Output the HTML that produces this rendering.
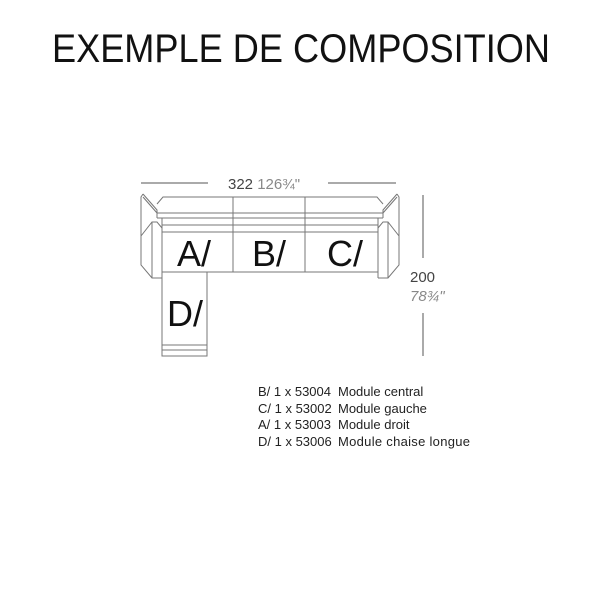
<!DOCTYPE html>
<html><head><meta charset="utf-8"><style>
html,body{margin:0;padding:0;background:#fff;}
svg{display:block;}
</style></head><body>
<svg width="600" height="600" viewBox="0 0 600 600" xmlns="http://www.w3.org/2000/svg" font-family="Liberation Sans, Arial, sans-serif">
<rect width="600" height="600" fill="#fff"/>
<text x="52" y="62" font-size="40" textLength="498" lengthAdjust="spacingAndGlyphs" fill="#111">EXEMPLE DE COMPOSITION</text>

<g stroke="#555" stroke-width="1" fill="none">
<line x1="141" y1="183" x2="208" y2="183"/>
<line x1="328" y1="183" x2="396" y2="183"/>
<line x1="423" y1="195" x2="423" y2="258"/>
<line x1="423" y1="313" x2="423" y2="356"/>
</g>
<text x="228" y="189" font-size="15" fill="#444">322 <tspan fill="#888">126¾"</tspan></text>
<text x="410" y="282" font-size="15" fill="#444">200</text>
<text x="410" y="301" font-size="15" fill="#888" font-style="italic">78¾"</text>

<g stroke="#777" stroke-width="1" fill="none">
<polyline points="157,204 163,197 377,197 383,204"/>
<line x1="157" y1="213" x2="383" y2="213"/>
<line x1="157" y1="218" x2="383" y2="218"/>
<line x1="162" y1="225" x2="378" y2="225"/>
<line x1="162" y1="232" x2="378" y2="232"/>
<line x1="162" y1="272" x2="378" y2="272"/>
<line x1="233" y1="197" x2="233" y2="272"/>
<line x1="305" y1="197" x2="305" y2="272"/>
<polyline points="143,194 141,197 141,265 152,278 162,278"/>
<polyline points="143,194 157,210 157,218"/>
<line x1="143" y1="197" x2="157" y2="213"/>
<polyline points="141,236 152,222 157,222 162,228"/>
<line x1="152" y1="222" x2="152" y2="278"/>
<line x1="162" y1="218" x2="162" y2="278"/>
<polyline points="397,194 399,197 399,265 388,278 378,278"/>
<polyline points="397,194 383,210 383,218"/>
<line x1="397" y1="197" x2="383" y2="213"/>
<polyline points="399,236 388,222 383,222 378,228"/>
<line x1="388" y1="222" x2="388" y2="278"/>
<line x1="378" y1="218" x2="378" y2="278"/>
<polyline points="162,272 162,356 207,356 207,272"/>
<line x1="162" y1="345" x2="207" y2="345"/>
<line x1="162" y1="350" x2="207" y2="350"/>
</g>
<g font-size="36" fill="#111">
<text x="177" y="266">A/</text>
<text x="252" y="266">B/</text>
<text x="327" y="266">C/</text>
<text x="167" y="326">D/</text>
</g>
<g font-size="13" fill="#222">
<text x="258" y="396">B/ 1 x 53004<tspan x="338">Module central</tspan></text>
<text x="258" y="413">C/ 1 x 53002<tspan x="338">Module gauche</tspan></text>
<text x="258" y="429">A/ 1 x 53003<tspan x="338">Module droit</tspan></text>
<text x="258" y="446">D/ 1 x 53006<tspan x="338" textLength="132">Module chaise longue</tspan></text>
</g>
</svg>
</body></html>
